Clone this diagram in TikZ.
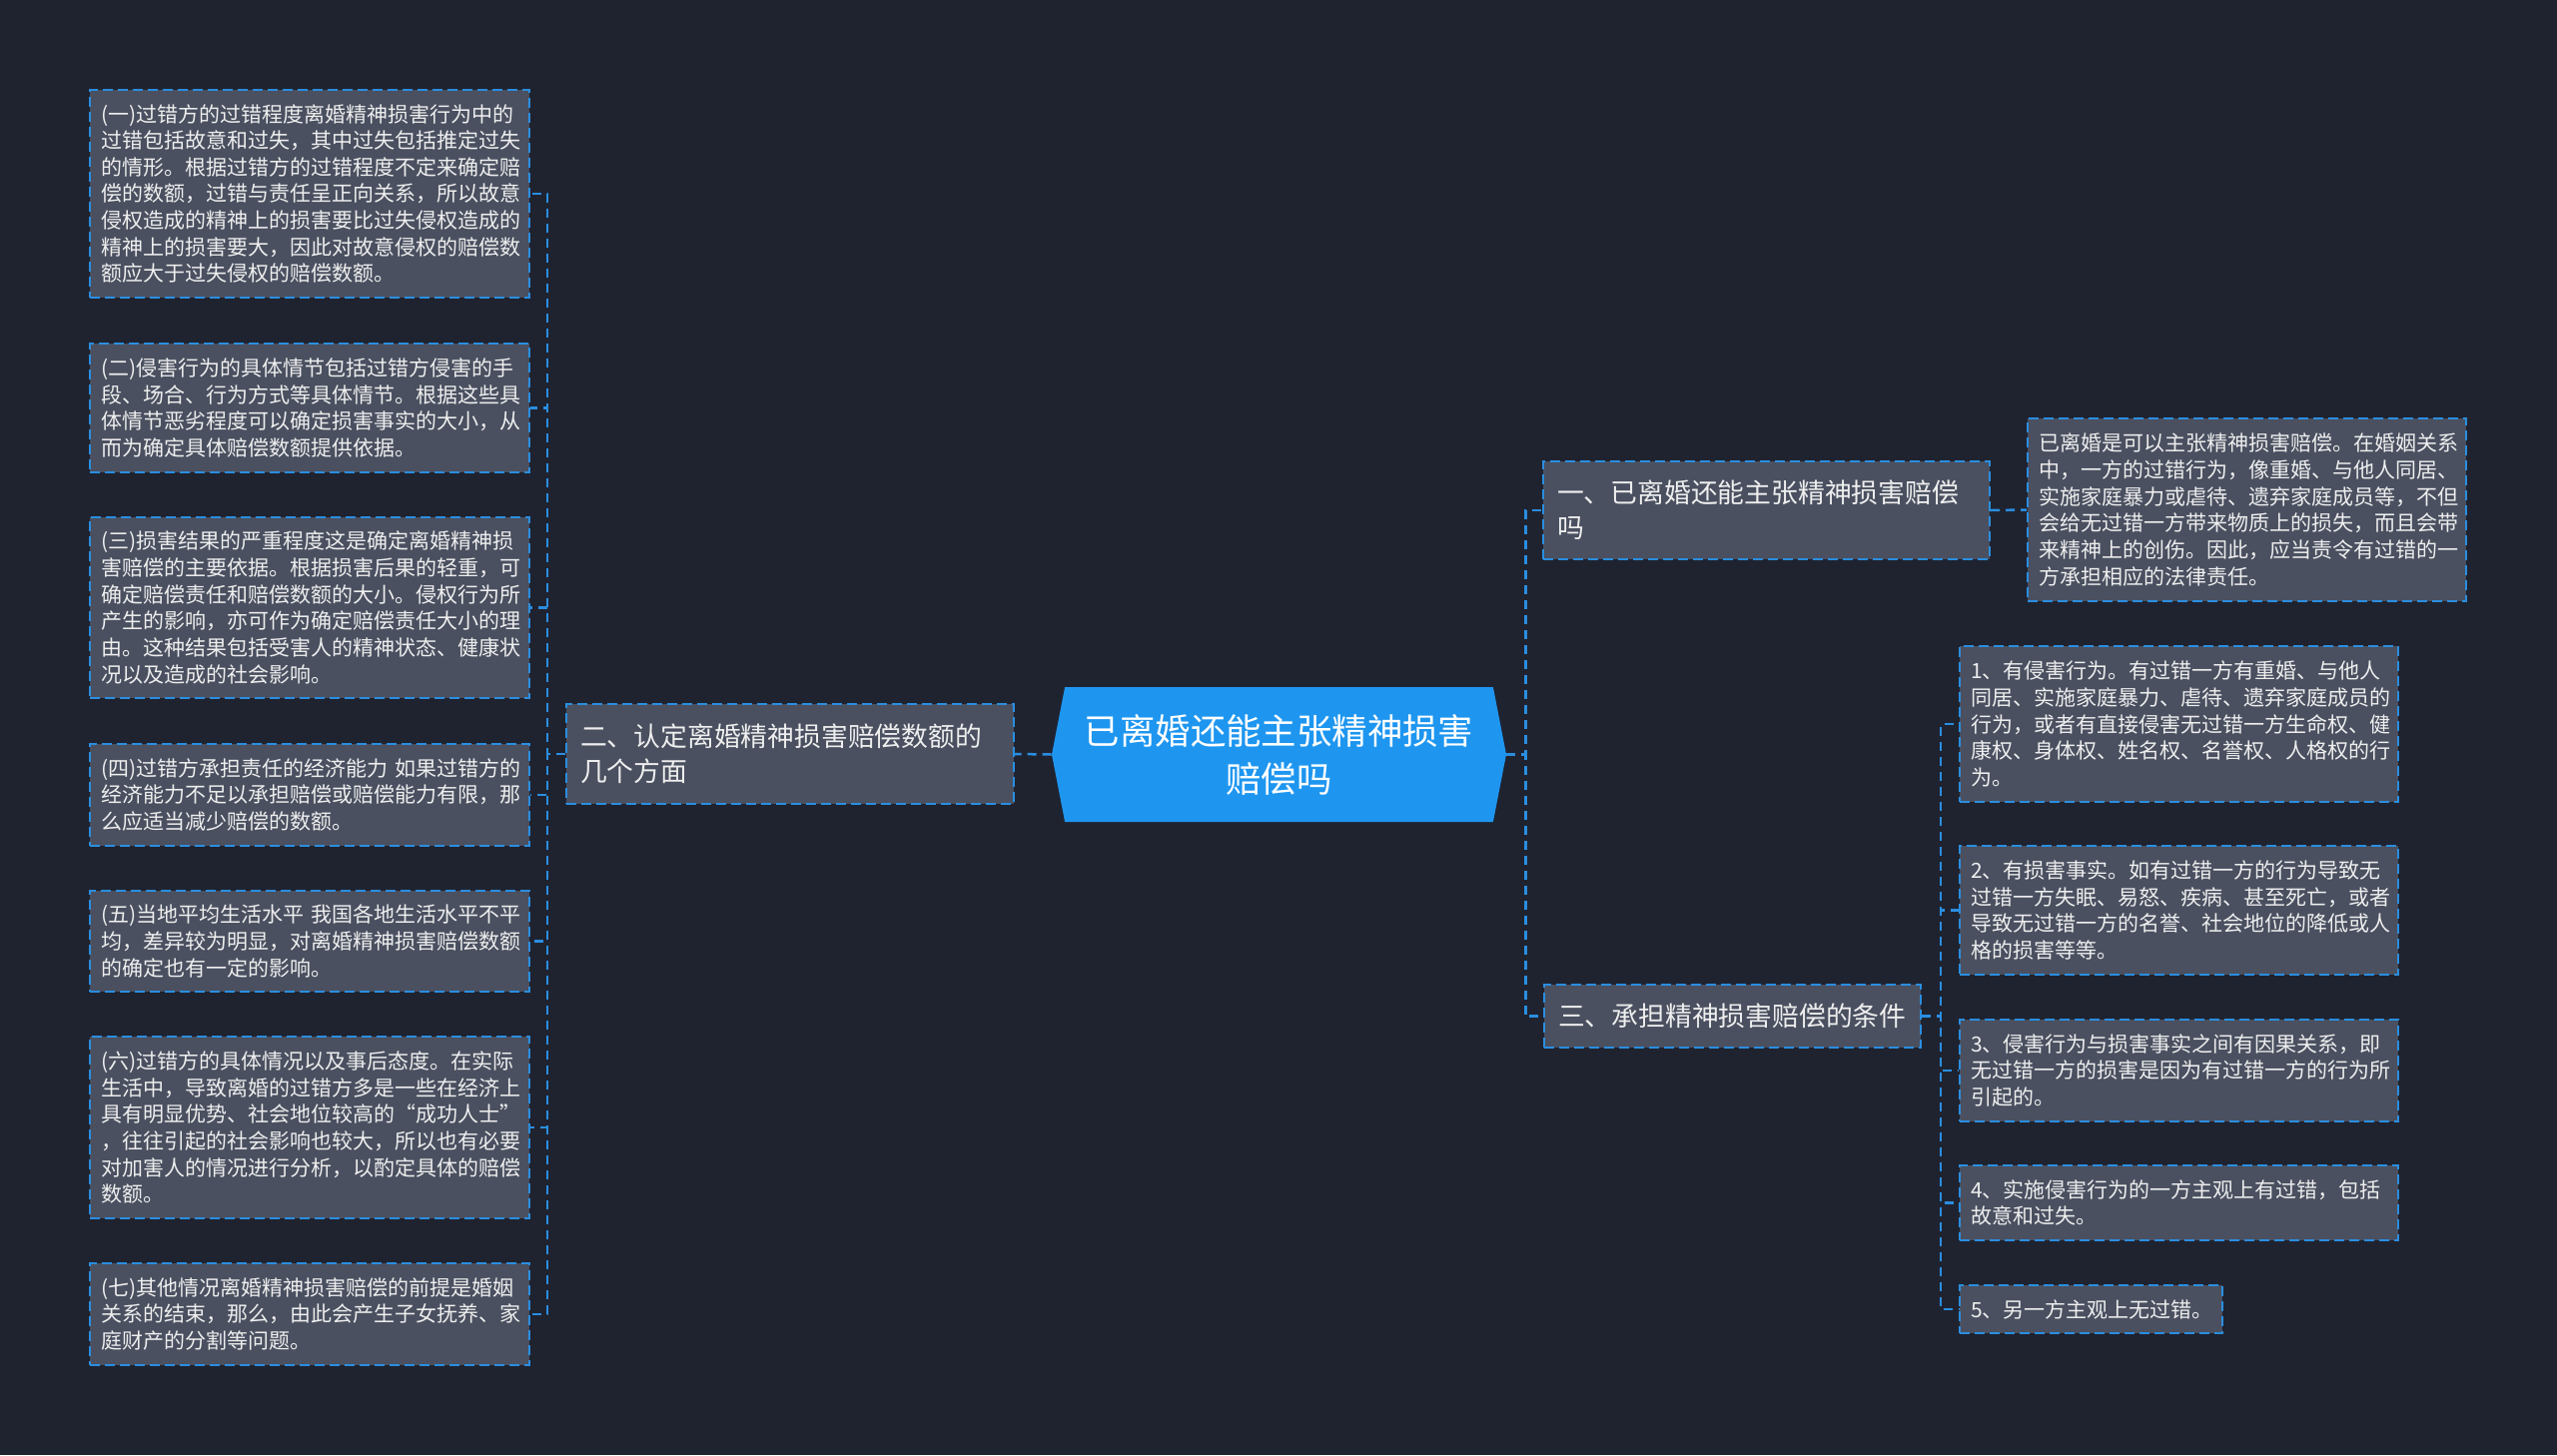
\documentclass[tikz,border=0pt]{standalone}
\usepackage{fontspec}
\usepackage{xcolor}
\usepackage{tikz}
\usetikzlibrary{shapes.symbols,backgrounds}
\newfontfamily\cjk{Noto Sans CJK SC}
\definecolor{fondo}{RGB}{31,35,48}
\definecolor{caja}{RGB}{74,80,96}
\definecolor{borde}{RGB}{42,142,224}
\definecolor{raiz}{RGB}{30,150,240}
\definecolor{letra}{RGB}{238,238,238}

\begin{document}
\begin{tikzpicture}[x=0.5pt,y=-0.5pt,
hoja/.style={draw=borde,line width=1pt,dash pattern=on 5pt off 2.5pt,fill=caja,text=letra,align=left,font=\cjk\fontsize{10.5pt}{13.33pt}\selectfont,inner xsep=5.5pt,inner ysep=0pt,text width=209pt},
rama/.style={draw=borde,line width=1pt,dash pattern=on 5pt off 2.5pt,fill=caja,text=letra,align=left,font=\cjk\fontsize{13.4pt}{17.5pt}\selectfont,inner xsep=7pt,inner ysep=0pt},
centro/.style={signal,signal to=west and east,signal pointer angle=158,fill=raiz,text=white,align=center,font=\cjk\fontsize{17.7pt}{24pt}\selectfont,minimum width=227.5pt,minimum height=67.5pt,inner sep=0pt},
con/.style={draw=borde,line width=1.25pt,dash pattern=on 4.5pt off 3pt}
]
\fill[fondo] (0,0) rectangle (2560,1457);

\node[centro] (raiz) at (1280.5,755.5) {已离婚还能主张精神损害\\赔偿吗};

\node[rama,text width=210pt,minimum height=50pt] (r2) at (791,755) {二、认定离婚精神损害赔偿数额的\\几个方面};
\node[rama,text width=209.5pt,minimum height=49pt] (r1) at (1768.5,511) {一、已离婚还能主张精神损害赔偿\\吗};
\node[rama,text width=174.5pt,minimum height=31.5pt] (r3) at (1734.5,1017.5) {三、承担精神损害赔偿的条件};

\node[hoja,minimum height=104pt] (a1) at (310,194) {(一)过错方的过错程度离婚精神损害行为中的\\过错包括故意和过失，其中过失包括推定过失\\的情形。根据过错方的过错程度不定来确定赔\\偿的数额，过错与责任呈正向关系，所以故意\\侵权造成的精神上的损害要比过失侵权造成的\\精神上的损害要大，因此对故意侵权的赔偿数\\额应大于过失侵权的赔偿数额。};
\node[hoja,minimum height=64.5pt] (a2) at (310,408.5) {(二)侵害行为的具体情节包括过错方侵害的手\\段、场合、行为方式等具体情节。根据这些具\\体情节恶劣程度可以确定损害事实的大小，从\\而为确定具体赔偿数额提供依据。};
\node[hoja,minimum height=90.5pt] (a3) at (310,608.5) {(三)损害结果的严重程度这是确定离婚精神损\\害赔偿的主要依据。根据损害后果的轻重，可\\确定赔偿责任和赔偿数额的大小。侵权行为所\\产生的影响，亦可作为确定赔偿责任大小的理\\由。这种结果包括受害人的精神状态、健康状\\况以及造成的社会影响。};
\node[hoja,minimum height=51pt] (a4) at (310,796) {(四)过错方承担责任的经济能力~如果过错方的\\经济能力不足以承担赔偿或赔偿能力有限，那\\么应适当减少赔偿的数额。};
\node[hoja,minimum height=50.5pt] (a5) at (310,942.5) {(五)当地平均生活水平~我国各地生活水平不平\\均，差异较为明显，对离婚精神损害赔偿数额\\的确定也有一定的影响。};
\node[hoja,minimum height=91pt] (a6) at (310,1129) {(六)过错方的具体情况以及事后态度。在实际\\生活中，导致离婚的过错方多是一些在经济上\\具有明显优势、社会地位较高的“成功人士”\\，往往引起的社会影响也较大，所以也有必要\\对加害人的情况进行分析，以酌定具体的赔偿\\数额。};
\node[hoja,minimum height=51pt] (a7) at (310,1316) {(七)其他情况离婚精神损害赔偿的前提是婚姻\\关系的结束，那么，由此会产生子女抚养、家\\庭财产的分割等问题。};

\node[hoja,text width=208.5pt,minimum height=91.5pt] (b0) at (2249.5,510.5) {已离婚是可以主张精神损害赔偿。在婚姻关系\\中，一方的过错行为，像重婚、与他人同居、\\实施家庭暴力或虐待、遗弃家庭成员等，不但\\会给无过错一方带来物质上的损失，而且会带\\来精神上的创伤。因此，应当责令有过错的一\\方承担相应的法律责任。};

\node[hoja,text width=208.5pt,minimum height=78pt] (c1) at (2181.5,725) {1、有侵害行为。有过错一方有重婚、与他人\\同居、实施家庭暴力、虐待、遗弃家庭成员的\\行为，或者有直接侵害无过错一方生命权、健\\康权、身体权、姓名权、名誉权、人格权的行\\为。};
\node[hoja,text width=208.5pt,minimum height=64.5pt] (c2) at (2181.5,911.5) {2、有损害事实。如有过错一方的行为导致无\\过错一方失眠、易怒、疾病、甚至死亡，或者\\导致无过错一方的名誉、社会地位的降低或人\\格的损害等等。};
\node[hoja,text width=208.5pt,minimum height=51pt] (c3) at (2181.5,1072) {3、侵害行为与损害事实之间有因果关系，即\\无过错一方的损害是因为有过错一方的行为所\\引起的。};
\node[hoja,text width=208.5pt,minimum height=37.5pt] (c4) at (2181.5,1204.5) {4、实施侵害行为的一方主观上有过错，包括\\故意和过失。};
\node[hoja,text width=120.5pt,minimum height=24pt] (c5) at (2093.5,1311) {5、另一方主观上无过错。};

\draw[con] (raiz.west) -- (r2.east);
\draw[con] (raiz.east) -- ++(19,0) |- (r1.west);
\draw[con] (raiz.east) -- ++(19,0) |- (r3.west);
\draw[con] (r1.east) -- (b0.west);
\foreach \i in {1,...,7}
  \draw[con] (r2.west) -- ++(-18,0) |- (a\i.east);
\foreach \i in {1,...,5}
  \draw[con] (r3.east) -- ++(19,0) |- (c\i.west);
\end{tikzpicture}
\end{document}
